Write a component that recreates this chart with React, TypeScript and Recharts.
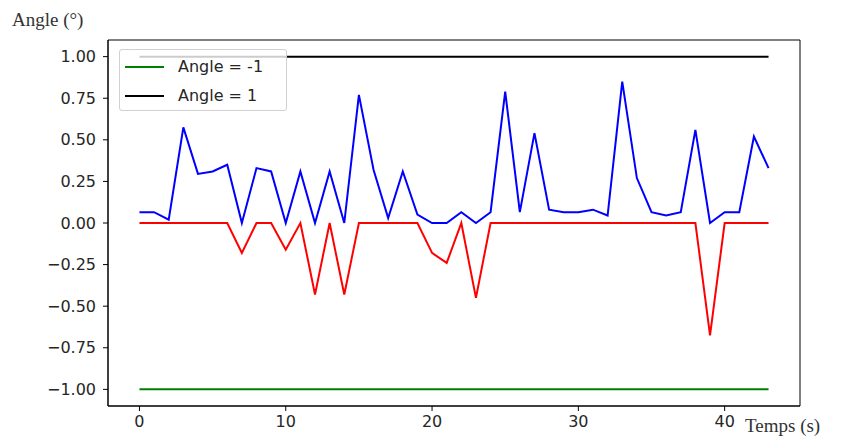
import React from "react";
import { LineChart, Line, XAxis, YAxis, ReferenceArea } from "recharts";

const times = [0,1,2,3,4,5,6,7,8,9,10,11,12,13,14,15,16,17,18,19,20,21,22,23,24,25,26,27,28,29,30,31,32,33,34,35,36,37,38,39,40,41,42,43];
const blueValues = [0.065,0.065,0.02,0.575,0.295,0.31,0.35,0.0,0.33,0.31,0.0,0.31,0.0,0.31,0.0,0.77,0.32,0.03,0.31,0.05,0.0,0.0,0.065,0.0,0.065,0.79,0.065,0.54,0.08,0.065,0.065,0.08,0.045,0.85,0.27,0.065,0.045,0.065,0.56,0.0,0.065,0.065,0.52,0.33];
const redValues = [0,0,0,0,0,0,0,-0.18,0,0,-0.16,0,-0.43,0,-0.43,0,0,0,0,0,-0.18,-0.24,0,-0.45,0,0,0,0,0,0,0,0,0,0,0,0,0,0,0,-0.675,0,0,0,0];
const lowerValue = -1;
const upperValue = 1;
const xTicks = [0, 10, 20, 30, 40];
const yTicks = [-1, -0.75, -0.5, -0.25, 0, 0.25, 0.5, 0.75, 1];
const legendItems = [
  { label: "Angle = -1", color: "#008000" },
  { label: "Angle = 1", color: "#000000" },
];

const data = times.map((t, i) => ({
  t,
  blue: blueValues[i],
  red: redValues[i],
  lower: lowerValue,
  upper: upperValue,
}));

const fmtY = (v: number) => {
  const s = Math.abs(v).toFixed(2);
  return v < 0 ? "\u2212" + s : s;
};

const tickStyle = { fill: "#262626", fontSize: 16, fontFamily: "'DejaVu Sans', sans-serif" };

export default function App() {
  return (
    <div style={{ position: "absolute", left: 0, top: 0, width: 845, height: 439, background: "#fff" }}>
      <LineChart
        width={845}
        height={439}
        data={data}
        margin={{ top: 40, right: 45, bottom: 8, left: 48 }}
      >
        <XAxis
          dataKey="t"
          type="number"
          domain={[-2.15, 45.15]}
          ticks={xTicks}
          allowDataOverflow
          height={25}
          tickSize={5}
          tickMargin={5}
          stroke="#000"
          tick={tickStyle}
        />
        <YAxis
          type="number"
          domain={[-1.1, 1.1]}
          ticks={yTicks}
          allowDataOverflow
          width={60}
          tickSize={5}
          tickMargin={7}
          stroke="#000"
          tickFormatter={fmtY}
          tick={tickStyle}
        />
        <ReferenceArea x1={-2.15} x2={45.15} y1={-1.1} y2={1.1} fill="none" stroke="#000" strokeWidth={1} ifOverflow="visible" />
        <Line dataKey="blue" stroke="#0000ff" strokeWidth={2} dot={false} isAnimationActive={false} />
        <Line dataKey="red" stroke="#ff0000" strokeWidth={2} dot={false} isAnimationActive={false} />
        <Line dataKey="lower" stroke="#008000" strokeWidth={2} dot={false} isAnimationActive={false} />
        <Line dataKey="upper" stroke="#000000" strokeWidth={2} dot={false} isAnimationActive={false} />
      </LineChart>
      <div
        style={{
          position: "absolute",
          left: 119,
          top: 49,
          width: 168,
          height: 62,
          boxSizing: "border-box",
          background: "rgba(255,255,255,0.8)",
          border: "1px solid #d0d0d0",
          borderRadius: 3,
          fontFamily: "'DejaVu Sans', sans-serif",
          fontSize: 16,
          color: "#262626",
          paddingTop: 2,
        }}
      >
        {legendItems.map((it) => (
          <div key={it.label} style={{ display: "flex", alignItems: "center", height: 29 }}>
            <div style={{ width: 39, height: 2, background: it.color, marginLeft: 5, marginRight: 14 }} />
            <span>{it.label}</span>
          </div>
        ))}
      </div>
      <div
        style={{
          position: "absolute",
          left: 12,
          top: 9,
          fontFamily: "'Liberation Serif', serif",
          fontSize: 19,
          color: "#333",
          whiteSpace: "nowrap",
        }}
      >
        Angle (°)
      </div>
      <div
        style={{
          position: "absolute",
          left: 745,
          top: 415,
          fontFamily: "'Liberation Serif', serif",
          fontSize: 19,
          color: "#333",
          whiteSpace: "nowrap",
        }}
      >
        Temps (s)
      </div>
    </div>
  );
}
